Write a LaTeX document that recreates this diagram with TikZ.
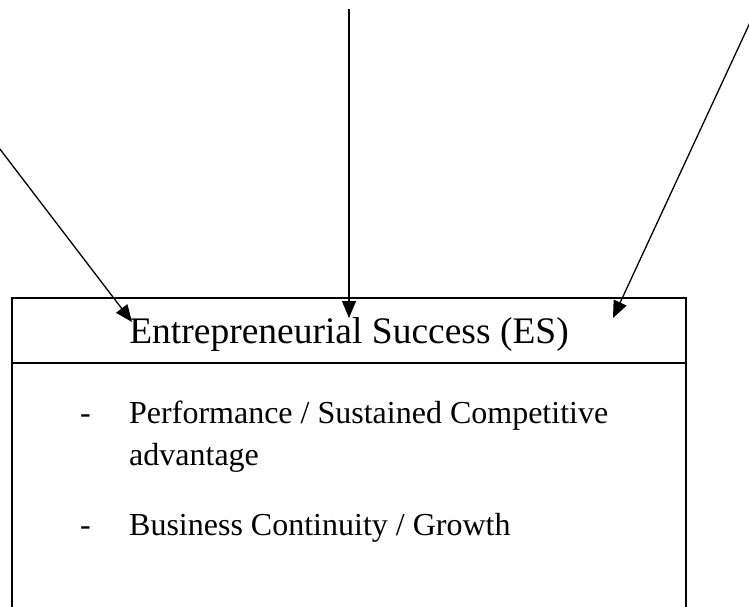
\documentclass[tikz,border=0pt]{standalone}
\usepackage{fontspec}
\setmainfont{Liberation Serif}
\usetikzlibrary{arrows.meta}
\begin{document}
\begin{tikzpicture}[x=1pt,y=-1pt,
  frame/.style={draw=black,line width=1.3pt},
  link/.style={draw=black,line width=1.3pt,-{Triangle[length=17pt,width=14pt]}},
  heading/.style={font=\fontsize{37.5}{45}\selectfont,anchor=base,inner sep=0pt},
  entry/.style={font=\fontsize{32}{42}\selectfont,anchor=base west,inner sep=0pt}]
\useasboundingbox (0,0) rectangle (749,607);
\clip (0,0) rectangle (749,607);

% outer frame of the construct box and the line under its heading
\draw[frame] (12,298) rectangle (686,660);
\draw[frame] (12,363) -- (686,363);

% heading and listed indicators
\node[heading] (es) at (349,343) {Entrepreneurial Success (ES)};
\node[entry] (d1) at (80,423) {-};
\node[entry] (i1) at (129,423) {Performance / Sustained Competitive};
\node[entry] (i1b) at (129,465) {advantage};
\node[entry] (d2) at (80,535) {-};
\node[entry] (i2) at (129,535) {Business Continuity / Growth};

% incoming influences from the constructs above
\coordinate (srcL) at (-20,123);
\coordinate (srcM) at (349,9);
\coordinate (srcR) at (760,1);
\coordinate (tipL) at (132,322);
\coordinate (tipM) at (349,318);
\coordinate (tipR) at (613,318);
\draw[link] (srcL) -- (tipL);
\draw[link] (srcM) -- (tipM);
\draw[link] (srcR) -- (tipR);
\end{tikzpicture}
\end{document}
